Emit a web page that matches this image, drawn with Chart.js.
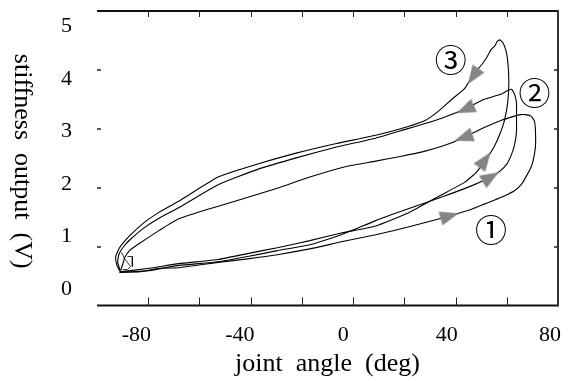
<!DOCTYPE html>
<html>
<head>
<meta charset="utf-8">
<script src="https://cdn.jsdelivr.net/npm/chart.js@4.4.1/dist/chart.umd.min.js"></script>
<style>
html,body{margin:0;padding:0;background:#fff;overflow:hidden}
#wrap{width:569px;height:382px;position:relative}
</style>
</head>
<body>
<div id="wrap"><canvas id="c"></canvas></div>
<script>
// ---- data ----
const xTickValues = [-80, -60, -40, -20, 0, 20, 40, 60];
const xLabelValues = [-80, -40, 0, 40, 80];
const yTickValues = [1, 2, 3, 4];
const yLabelValues = [0, 1, 2, 3, 4, 5];

const loop1Angle = [-91.2, -83.5, -75.8, -68.1, -52.7, -41.2, -29.6, -16.9, -4.6, 8.8, 21.5, 31.9, 37.7, 45.4, 51.2, 56.9, 62.7, 65.8, 67.7, 69.6, 70.4, 71.2, 71.2, 70.8, 69.6, 67.3, 65.4, 62.7, 57.7, 51.2, 42.7, 35.8, 28.1, 18.5, 8.8, -2.7, -16.9, -29.6, -42.3, -54.6, -68.1, -75.8, -83.5, -87.3, -89.2, -90.0, -90.8];
const loop1Value = [0.57, 0.57, 0.63, 0.64, 0.73, 0.79, 0.86, 0.96, 1.08, 1.20, 1.33, 1.45, 1.52, 1.62, 1.72, 1.82, 1.94, 2.06, 2.20, 2.36, 2.48, 2.70, 2.96, 3.13, 3.21, 3.24, 3.24, 3.21, 3.14, 3.02, 2.84, 2.72, 2.62, 2.53, 2.45, 2.36, 2.18, 1.99, 1.82, 1.66, 1.47, 1.27, 1.05, 0.93, 0.81, 0.69, 0.59];

const loop2Angle = [-91.2, -79.6, -68.1, -52.7, -41.2, -29.6, -16.9, -4.6, 8.8, 21.5, 34.6, 46.2, 53.8, 57.3, 60.0, 61.9, 63.1, 63.8, 63.8, 63.8, 63.1, 61.9, 60.4, 57.3, 51.2, 43.5, 34.6, 28.1, 20.4, 8.8, -6.5, -21.9, -37.3, -52.7, -68.1, -75.8, -81.5, -86.5, -89.6, -91.5, -91.9, -90.8];
const loop2Value = [0.56, 0.59, 0.68, 0.74, 0.83, 0.93, 1.03, 1.20, 1.44, 1.64, 1.84, 2.03, 2.18, 2.28, 2.40, 2.57, 2.74, 2.96, 3.21, 3.43, 3.58, 3.67, 3.65, 3.58, 3.50, 3.33, 3.18, 3.09, 2.99, 2.84, 2.69, 2.51, 2.31, 2.05, 1.66, 1.48, 1.32, 1.14, 1.00, 0.86, 0.73, 0.57];

const loop3Angle = [-91.2, -79.6, -68.1, -52.7, -41.2, -29.6, -16.9, -4.6, 8.8, 21.5, 34.6, 43.5, 48.1, 51.9, 55.0, 57.3, 59.2, 60.4, 60.8, 60.4, 59.6, 58.5, 57.3, 56.2, 55.4, 53.8, 52.3, 50.4, 48.5, 46.5, 43.5, 38.8, 33.1, 28.1, 21.5, 8.8, -6.5, -21.9, -37.3, -52.7, -68.1, -75.8, -81.5, -87.3, -91.2, -92.7, -92.3, -91.2];
const loop3Value = [0.57, 0.63, 0.71, 0.78, 0.88, 0.98, 1.10, 1.23, 1.35, 1.57, 1.88, 2.09, 2.26, 2.48, 2.69, 2.91, 3.16, 3.46, 3.80, 4.14, 4.34, 4.46, 4.51, 4.48, 4.41, 4.34, 4.22, 4.10, 4.00, 3.89, 3.68, 3.51, 3.29, 3.14, 3.04, 2.89, 2.75, 2.59, 2.40, 2.18, 1.77, 1.58, 1.41, 1.18, 0.98, 0.83, 0.69, 0.59];

const noiseAngle = [-90.4, -89.2, -88.1, -86.9, -88.1, -90.0];
const noiseValue = [0.90, 0.79, 0.73, 0.66, 0.61, 0.61];
const bracketAngle = [-88.1, -86.2, -86.2];
const bracketValue = [0.83, 0.83, 0.66];

const arrowAngle = [37.7, 53.8, 51.5, 46.9, 43.8, 43.1];
const arrowValue = [1.52, 2.18, 2.47, 3.89, 3.33, 2.85];
const arrowRotation = [74, 59, 36, 214, 246, 251];

const markerText = ['\u2460', '\u2461', '\u2462'];
const markerAngle = [53.8, 70.8, 38.1];
const markerValue = [1.28, 3.61, 4.17];

const xTitle = 'joint  angle  (deg)';
const yTitle = 'stiffness  output  (V)';

// ---- helpers ----
const pts = (xs, ys) => xs.map((v, i) => ({x: v, y: ys[i]}));

const arrowImg = document.createElement('canvas');
arrowImg.width = 20; arrowImg.height = 20;
(() => {
  const g = arrowImg.getContext('2d');
  g.fillStyle = '#858585';
  g.beginPath();
  g.moveTo(10, 0.5); g.lineTo(17.2, 19.5); g.lineTo(2.8, 19.5); g.closePath();
  g.fill();
})();

const curveStyle = {showLine: true, borderColor: '#000', borderWidth: 1.1, pointRadius: 0, fill: false, tension: 0.15};

const framePlugin = {
  id: 'frame',
  afterDatasetsDraw(chart) {
    const {ctx, chartArea: a, scales} = chart;
    const x = scales.x, y = scales.y;
    ctx.save();
    ctx.lineWidth = 2;
    ctx.strokeStyle = '#111';
    ctx.beginPath(); ctx.moveTo(a.left, a.top); ctx.lineTo(a.right, a.top); ctx.stroke();
    ctx.beginPath(); ctx.moveTo(a.left, a.bottom); ctx.lineTo(a.right, a.bottom); ctx.stroke();
    ctx.strokeStyle = '#333';
    ctx.beginPath(); ctx.moveTo(a.right, a.top - 1); ctx.lineTo(a.right, a.bottom + 1); ctx.stroke();
    ctx.lineWidth = 1;
    ctx.strokeStyle = '#222';
    xTickValues.forEach(v => {
      const px = Math.round(x.getPixelForValue(v)) + 0.5;
      ctx.beginPath(); ctx.moveTo(px, a.bottom); ctx.lineTo(px, a.bottom - 8); ctx.stroke();
      ctx.beginPath(); ctx.moveTo(px, a.top); ctx.lineTo(px, a.top + 6); ctx.stroke();
    });
    ctx.lineWidth = 1.5;
    yTickValues.forEach(v => {
      const py = Math.round(y.getPixelForValue(v));
      ctx.beginPath(); ctx.moveTo(a.left, py); ctx.lineTo(a.left + 4, py); ctx.stroke();
      ctx.beginPath(); ctx.moveTo(a.right - 4, py); ctx.lineTo(a.right, py); ctx.stroke();
    });
    // circled loop numbers
    ctx.fillStyle = '#000';
    ctx.font = '32px "Noto Sans CJK JP"';
    ctx.textAlign = 'center';
    ctx.textBaseline = 'middle';
    markerText.forEach((t, i) => {
      ctx.fillText(t, x.getPixelForValue(markerAngle[i]), y.getPixelForValue(markerValue[i]));
    });
    // y axis title (reads top to bottom)
    ctx.font = '26px "Liberation Serif"';
    ctx.translate(22, (a.top + a.bottom) / 2 + 3);
    ctx.rotate(Math.PI / 2);
    ctx.fillText(yTitle, 0, 0);
    ctx.restore();
  }
};

Chart.defaults.font.family = '"Liberation Serif"';
Chart.defaults.color = '#000';

new Chart(document.getElementById('c'), {
  type: 'scatter',
  data: {
    datasets: [
      Object.assign({label: 'loop 1', data: pts(loop1Angle, loop1Value)}, curveStyle),
      Object.assign({label: 'loop 2', data: pts(loop2Angle, loop2Value)}, curveStyle),
      Object.assign({label: 'loop 3', data: pts(loop3Angle, loop3Value)}, curveStyle),
      Object.assign({label: 'start', data: pts(noiseAngle, noiseValue)}, curveStyle, {borderWidth: 0.8, tension: 0}),
      Object.assign({label: 'start2', data: pts(bracketAngle, bracketValue)}, curveStyle, {borderWidth: 0.8, tension: 0}),
      {
        label: 'direction',
        data: pts(arrowAngle, arrowValue),
        showLine: false,
        pointStyle: arrowImg,
        pointRadius: 10,
        pointRotation: arrowRotation,
        order: -1,
        clip: false
      }
    ]
  },
  options: {
    responsive: true,
    maintainAspectRatio: false,
    devicePixelRatio: 1,
    animation: false,
    events: [],
    layout: {padding: {left: 61, right: 4, top: 9, bottom: 0}},
    plugins: {legend: {display: false}, tooltip: {enabled: false}},
    scales: {
      x: {type: 'linear', display: false, min: -100, max: 80},
      y: {type: 'linear', display: false, min: 0, max: 5},
      xl: {
        type: 'linear', position: 'bottom', axis: 'x',
        min: -95.24, max: 83.05,
        afterBuildTicks: s => { s.ticks = xLabelValues.map(v => ({value: v})); },
        ticks: {font: {size: 22}, color: '#000', padding: 0, maxRotation: 0, autoSkip: false, callback: v => String(v)},
        grid: {display: false, drawTicks: true, tickLength: 17},
        border: {display: false},
        title: {display: true, text: xTitle, color: '#000', font: {size: 26}, padding: {top: 0, bottom: 2}}
      },
      yl: {
        type: 'linear', position: 'left', axis: 'y',
        min: -0.3165, max: 5.2935,
        afterBuildTicks: s => { s.ticks = yLabelValues.map(v => ({value: v})); },
        ticks: {font: {size: 22, lineHeight: 0.8}, color: '#000', padding: 0, callback: v => String(v)},
        grid: {display: false, drawTicks: true, tickLength: 25},
        border: {display: false}
      }
    }
  },
  plugins: [framePlugin]
});
</script>
</body>
</html>
